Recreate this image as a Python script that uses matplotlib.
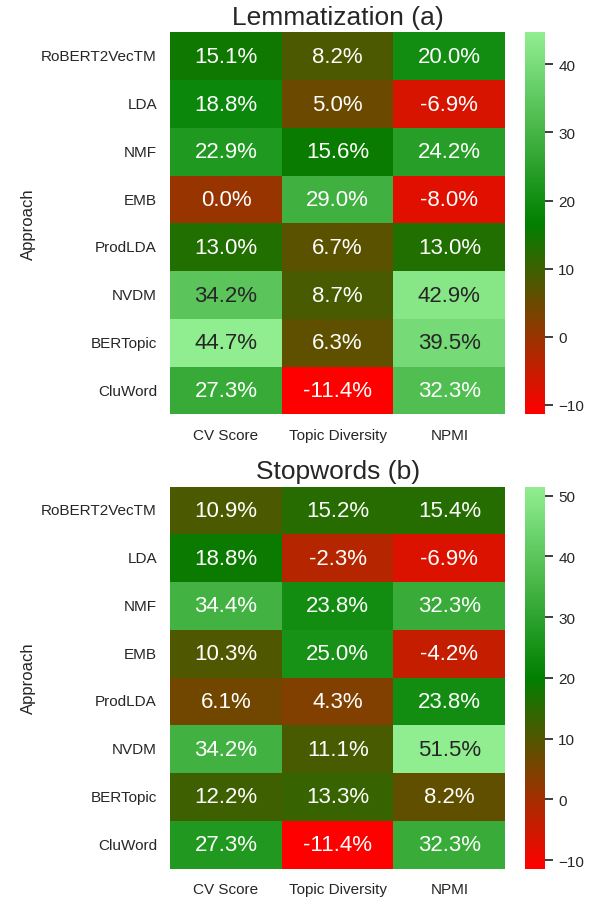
import numpy as np
import matplotlib
matplotlib.use("Agg")
import matplotlib.pyplot as plt
import seaborn as sns
from matplotlib.colors import LinearSegmentedColormap

approaches = ["RoBERT2VecTM", "LDA", "NMF", "EMB", "ProdLDA", "NVDM", "BERTopic", "CluWord"]
metrics = ["CV Score", "Topic Diversity", "NPMI"]

lemma_vals = [
    [15.1, 8.2, 20.0],
    [18.8, 5.0, -6.9],
    [22.9, 15.6, 24.2],
    [0.0, 29.0, -8.0],
    [13.0, 6.7, 13.0],
    [34.2, 8.7, 42.9],
    [44.7, 6.3, 39.5],
    [27.3, -11.4, 32.3],
]
stop_vals = [
    [10.9, 15.2, 15.4],
    [18.8, -2.3, -6.9],
    [34.4, 23.8, 32.3],
    [10.3, 25.0, -4.2],
    [6.1, 4.3, 23.8],
    [34.2, 11.1, 51.5],
    [12.2, 13.3, 8.2],
    [27.3, -11.4, 32.3],
]

sns.set_theme(style="white")
plt.rcParams['font.family'] = ['Liberation Sans', 'DejaVu Sans']

cmap = LinearSegmentedColormap.from_list("rg", ["red", "green", "lightgreen"])

fig = plt.figure(figsize=(5.95, 9.03), dpi=100)

panels = [
    (lemma_vals, "Lemmatization (a)", [0.286, 0.540, 0.563, 0.423], [0.883, 0.540, 0.033, 0.423]),
    (stop_vals, "Stopwords (b)", [0.286, 0.037, 0.563, 0.423], [0.883, 0.037, 0.033, 0.423]),
]

for vals, title, pos, cpos in panels:
    data = np.array(vals)
    labels = np.array([["%.1f%%" % v for v in row] for row in data])
    ax = fig.add_axes(pos)
    cax = fig.add_axes(cpos)
    sns.heatmap(data, ax=ax, cbar_ax=cax, cmap=cmap, annot=labels, fmt="",
                annot_kws={"size": 16}, xticklabels=metrics, yticklabels=approaches)
    ax.set_title(title, fontsize=19)
    ax.set_ylabel("Approach", fontsize=12)
    ax.tick_params(axis='y', rotation=0, labelsize=11)
    ax.tick_params(axis='x', rotation=0, labelsize=11)
    cax.tick_params(labelsize=11)

fig.savefig("out.png", dpi=100)
